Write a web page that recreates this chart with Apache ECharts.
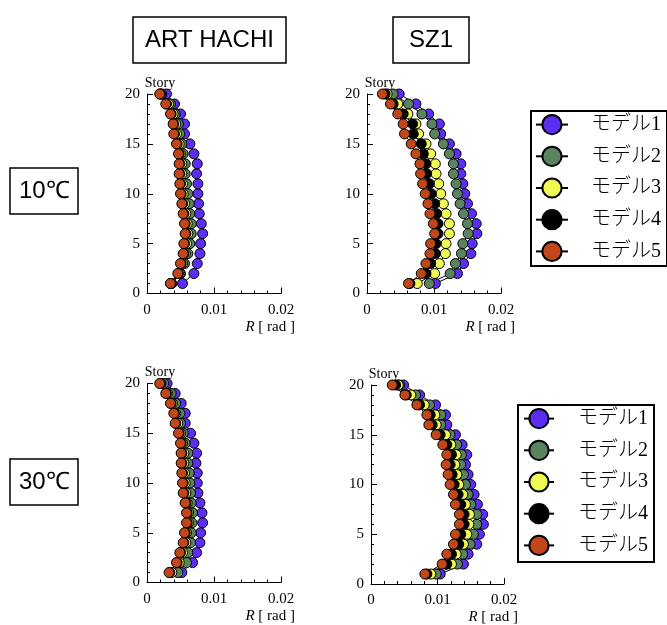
<!DOCTYPE html>
<html><head><meta charset="utf-8">
<script src="https://cdn.jsdelivr.net/npm/echarts@6/dist/echarts.min.js"></script>
<style>html,body{margin:0;padding:0;background:#fff}#c{width:667px;height:625px}</style>
</head><body><div id="c"></div>
<script>
// Stories 1..20 (bottom to top)
const stories = [1,2,3,4,5,6,7,8,9,10,11,12,13,14,15,16,17,18,19,20];
const modelNames = ['モデル1','モデル2','モデル3','モデル4','モデル5'];
const xTicks = [0, 0.01, 0.02];

// ART HACHI, 10℃  (R [rad] for stories 1..20)
const art10_m1 = [0.0053,0.0070,0.0075,0.0079,0.0080,0.0083,0.0081,0.0078,0.0077,0.0076,0.0076,0.0074,0.0075,0.0070,0.0064,0.0056,0.0056,0.0050,0.0041,0.0029];
const art10_m2 = [0.0037,0.0050,0.0056,0.0061,0.0064,0.0066,0.0066,0.0064,0.0063,0.0061,0.0059,0.0057,0.0057,0.0054,0.0052,0.0049,0.0047,0.0042,0.0035,0.0022];
const art10_m3 = [0.0036,0.0049,0.0053,0.0057,0.0059,0.0061,0.0060,0.0058,0.0056,0.0054,0.0053,0.0052,0.0052,0.0050,0.0048,0.0044,0.0043,0.0039,0.0032,0.0020];
const art10_m4 = [0.0035,0.0047,0.0051,0.0055,0.0056,0.0058,0.0057,0.0055,0.0053,0.0051,0.0050,0.0049,0.0049,0.0048,0.0045,0.0041,0.0040,0.0036,0.0029,0.0020];
const art10_m5 = [0.0035,0.0046,0.0050,0.0054,0.0055,0.0057,0.0056,0.0054,0.0052,0.0050,0.0049,0.0048,0.0048,0.0047,0.0044,0.0040,0.0039,0.0035,0.0028,0.0019];

// SZ1, 10℃
const sz10_m1 = [0.0102,0.0135,0.0144,0.0155,0.0157,0.0164,0.0163,0.0156,0.0150,0.0146,0.0143,0.0140,0.0140,0.0133,0.0123,0.0110,0.0108,0.0092,0.0073,0.0048];
const sz10_m2 = [0.0093,0.0124,0.0132,0.0141,0.0143,0.0151,0.0150,0.0144,0.0139,0.0135,0.0133,0.0129,0.0129,0.0123,0.0114,0.0101,0.0097,0.0082,0.0062,0.0039];
const sz10_m3 = [0.0075,0.0101,0.0108,0.0117,0.0118,0.0123,0.0123,0.0118,0.0114,0.0110,0.0107,0.0103,0.0102,0.0095,0.0088,0.0077,0.0073,0.0061,0.0046,0.0030];
const sz10_m4 = [0.0064,0.0088,0.0095,0.0102,0.0103,0.0106,0.0106,0.0104,0.0101,0.0096,0.0093,0.0089,0.0088,0.0084,0.0081,0.0069,0.0068,0.0054,0.0039,0.0027];
const sz10_m5 = [0.0062,0.0081,0.0088,0.0094,0.0095,0.0101,0.0099,0.0094,0.0091,0.0087,0.0083,0.0080,0.0079,0.0073,0.0066,0.0056,0.0054,0.0046,0.0035,0.0023];

// ART HACHI, 30℃
const art30_m1 = [0.0052,0.0068,0.0074,0.0079,0.0080,0.0083,0.0082,0.0079,0.0076,0.0075,0.0075,0.0073,0.0074,0.0070,0.0065,0.0057,0.0057,0.0051,0.0042,0.0030];
const art30_m2 = [0.0046,0.0059,0.0061,0.0065,0.0066,0.0067,0.0068,0.0066,0.0065,0.0064,0.0063,0.0061,0.0061,0.0057,0.0054,0.0050,0.0049,0.0043,0.0036,0.0025];
const art30_m3 = [0.0037,0.0048,0.0053,0.0058,0.0059,0.0062,0.0062,0.0060,0.0058,0.0057,0.0056,0.0055,0.0055,0.0053,0.0050,0.0046,0.0043,0.0038,0.0031,0.0021];
const art30_m4 = [0.0034,0.0045,0.0050,0.0055,0.0057,0.0060,0.0060,0.0058,0.0055,0.0054,0.0053,0.0052,0.0052,0.0051,0.0048,0.0043,0.0041,0.0036,0.0029,0.0020];
const art30_m5 = [0.0033,0.0044,0.0049,0.0054,0.0056,0.0059,0.0059,0.0057,0.0054,0.0053,0.0052,0.0051,0.0051,0.0050,0.0047,0.0042,0.0040,0.0035,0.0028,0.0019];

// SZ1, 30℃
const sz30_m1 = [0.0104,0.0139,0.0146,0.0159,0.0163,0.0169,0.0168,0.0160,0.0155,0.0150,0.0146,0.0142,0.0144,0.0137,0.0127,0.0114,0.0112,0.0097,0.0073,0.0049];
const sz30_m2 = [0.0098,0.0130,0.0138,0.0149,0.0154,0.0159,0.0159,0.0150,0.0146,0.0142,0.0139,0.0135,0.0136,0.0129,0.0119,0.0105,0.0105,0.0088,0.0067,0.0043];
const sz30_m3 = [0.0090,0.0121,0.0128,0.0139,0.0144,0.0147,0.0148,0.0142,0.0138,0.0132,0.0129,0.0126,0.0128,0.0120,0.0112,0.0098,0.0096,0.0080,0.0060,0.0041];
const sz30_m4 = [0.0084,0.0114,0.0121,0.0132,0.0135,0.0140,0.0140,0.0135,0.0131,0.0125,0.0122,0.0119,0.0121,0.0114,0.0104,0.0092,0.0089,0.0073,0.0053,0.0037];
const sz30_m5 = [0.0081,0.0107,0.0114,0.0124,0.0127,0.0133,0.0133,0.0127,0.0124,0.0119,0.0116,0.0113,0.0114,0.0108,0.0098,0.0087,0.0084,0.0069,0.0051,0.0032];

const panels = [
  [art10_m1, art10_m2, art10_m3, art10_m4, art10_m5],
  [sz10_m1, sz10_m2, sz10_m3, sz10_m4, sz10_m5],
  [art30_m1, art30_m2, art30_m3, art30_m4, art30_m5],
  [sz30_m1, sz30_m2, sz30_m3, sz30_m4, sz30_m5]
];
const modelColors = ['#5b2ef2', '#5a8460', '#f0fa55', '#000000', '#c1461a'];

const grids = [
  {left: 147, top: 94, width: 134, height: 199.5},
  {left: 367, top: 94, width: 134, height: 199.5},
  {left: 147, top: 383.5, width: 134, height: 199},
  {left: 371, top: 385, width: 133, height: 199}
];

const serif = "'Liberation Serif', 'Times New Roman', serif";

const xAxes = grids.map((g, i) => ({
  type: 'value', gridIndex: i, min: xTicks[0], max: xTicks[2], interval: 0.01,
  axisLine: {show: true, lineStyle: {color: '#000', width: 1}},
  axisTick: {show: true, inside: true, length: 6, lineStyle: {color: '#000'}},
  minorTick: {show: true, splitNumber: 5, length: 3, lineStyle: {color: '#000'}},
  splitLine: {show: false},
  axisLabel: {color: '#000', fontFamily: serif, fontSize: 15, margin: 9,
    formatter: v => (v === 0 ? '0' : String(+v.toFixed(2)))},
  name: '{i|R} [ rad ]', nameLocation: 'end', nameGap: 14,
  nameTextStyle: {color: '#000', fontFamily: serif, fontSize: 15, align: 'right', verticalAlign: 'top',
    padding: [26, 0, 0, 0], rich: {i: {fontStyle: 'italic', fontFamily: serif, fontSize: 15, color: '#000'}}}
}));

const yAxes = grids.map((g, i) => ({
  type: 'value', gridIndex: i, min: 0, max: 20, interval: 5,
  axisLine: {show: true, lineStyle: {color: '#000', width: 1}},
  axisTick: {show: true, inside: true, length: 6, lineStyle: {color: '#000'}},
  minorTick: {show: true, splitNumber: 5, length: 3, lineStyle: {color: '#000'}},
  splitLine: {show: false},
  axisLabel: {color: '#000', fontFamily: serif, fontSize: 15, margin: 7},
  name: 'Story', nameLocation: 'end', nameGap: 4,
  nameTextStyle: {color: '#000', fontFamily: serif, fontSize: 14, align: 'center', padding: [0, 0, 0, 26]}
}));

const series = [];
panels.forEach((models, p) => {
  models.forEach((vals, m) => {
    series.push({
      type: 'line', name: modelNames[m], xAxisIndex: p, yAxisIndex: p,
      data: stories.map((s, k) => [vals[k], s]),
      symbol: 'circle', symbolSize: 10, showAllSymbol: true,
      lineStyle: {color: '#000', width: 1},
      itemStyle: {color: modelColors[m], borderColor: '#000', borderWidth: 1},
      emphasis: {disabled: true},
      animation: false
    });
  });
});

const legendText = {color: '#000', fontSize: 20, fontWeight: 300,
  fontFamily: "'Liberation Serif', 'Noto Sans CJK JP', serif"};

const boxTitle = (text, left, top, padH) => ({
  text, left, top, padding: [10, padH], borderColor: '#000', borderWidth: 1.5,
  textStyle: {fontFamily: "'Liberation Sans', Arial, sans-serif", fontSize: 24, fontWeight: 'normal', color: '#000', lineHeight: 26}
});

const chart = echarts.init(document.getElementById('c'), null, {renderer: 'canvas'});
chart.setOption({
  backgroundColor: '#fff',
  animation: false,
  title: [
    boxTitle('ART HACHI', 133, 17, 12),
    boxTitle('SZ1', 393, 17, 16),
    boxTitle('10℃', 10, 168, 9),
    boxTitle('30℃', 10, 459, 9)
  ],
  legend: [
    {orient: 'vertical', left: 531, top: 111, data: modelNames, selectedMode: false,
     itemWidth: 32, itemHeight: 24, itemGap: 10.5, padding: [3, 6, 4, 4],
     borderColor: '#000', borderWidth: 2,
     textStyle: Object.assign({padding: [0, 0, 0, 18]}, legendText)},
    {orient: 'vertical', left: 518, top: 405, data: modelNames, selectedMode: false,
     itemWidth: 30, itemHeight: 24, itemGap: 10.5, padding: [3, 6, 6, 5],
     borderColor: '#000', borderWidth: 2,
     textStyle: Object.assign({padding: [0, 0, 0, 19]}, legendText)}
  ],
  grid: grids,
  xAxis: xAxes,
  yAxis: yAxes,
  series
});
</script></body></html>
